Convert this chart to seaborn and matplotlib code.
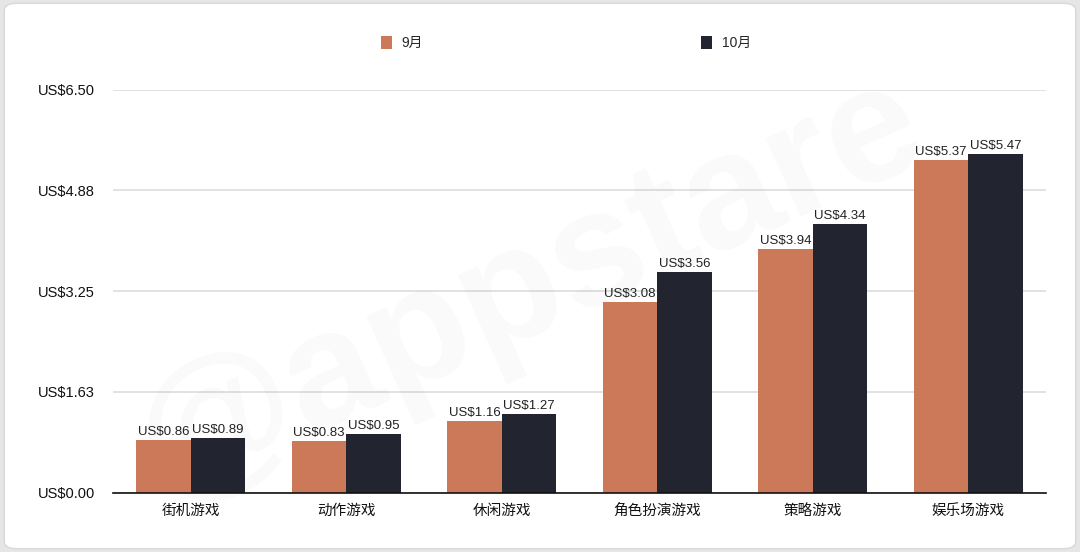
import matplotlib
matplotlib.use("Agg")
import matplotlib.pyplot as plt
import seaborn as sns
import pandas as pd
from matplotlib.patches import FancyBboxPatch

categories = ["街机游戏", "动作游戏", "休闲游戏", "角色扮演游戏", "策略游戏", "娱乐场游戏"]
series_names = ["9月", "10月"]
sep_values = [0.86, 0.83, 1.16, 3.08, 3.94, 5.37]
oct_values = [0.89, 0.95, 1.27, 3.56, 4.34, 5.47]
y_ticks = [0.00, 1.63, 3.25, 4.88, 6.50]
colors = ["#CC7959", "#22242F"]

df = pd.DataFrame({
    "category": categories * 2,
    "series": [series_names[0]] * len(categories) + [series_names[1]] * len(categories),
    "value": sep_values + oct_values,
})

sns.set_theme(style="white")
plt.rcParams["font.family"] = ["Liberation Sans", "Noto Sans CJK SC", "DejaVu Sans"]

fig = plt.figure(figsize=(10.8, 5.52), dpi=100)
fig.patch.set_facecolor("#E6E6E6")
bg = FancyBboxPatch((0.004, 0.006), 0.992, 0.988, boxstyle="round,pad=0,rounding_size=0.012",
                    transform=fig.transFigure, facecolor="white", edgecolor="#D8D8D8",
                    linewidth=1.0, zorder=-5)
fig.patches.append(bg)

ax = fig.add_axes([0.1046, 0.107, 0.864, 0.730])
ax.set_facecolor("none")

sns.barplot(data=df, x="category", y="value", hue="series", palette=colors,
            width=0.70, saturation=1, ax=ax, zorder=3, linewidth=0, edgecolor="none")

for cont in ax.containers:
    ax.bar_label(cont, labels=[f"US${v:.2f}" for v in cont.datavalues],
                 padding=1.5, fontsize=9.5, color="#222222", zorder=5)

ax.set_xlim(-0.5, len(categories) - 0.5)
ax.set_ylim(0, 6.5)
ax.set_yticks(y_ticks)
ax.set_yticklabels([f"US${v:.2f}" for v in y_ticks], fontsize=10.5, color="#111111")
ax.tick_params(axis="x", labelsize=10.5, colors="#111111", length=0, pad=8)
ax.tick_params(axis="y", length=0, pad=13)
ax.set_xlabel("")
ax.set_ylabel("")
ax.yaxis.grid(True, color="#DDDDDD", linewidth=1.2, zorder=0)
ax.set_axisbelow(True)
for s in ["top", "right", "left"]:
    ax.spines[s].set_visible(False)
ax.spines["bottom"].set_color("#111111")
ax.spines["bottom"].set_linewidth(1.2)
ax.spines["bottom"].set_zorder(6)

# legend
handles, labels = ax.get_legend_handles_labels()
ax.get_legend().remove()
fig.legend(handles, labels, loc="center", bbox_to_anchor=(0.524, 0.922), ncol=2,
           frameon=False, fontsize=10, handlelength=0.8, handleheight=1.1,
           handletextpad=0.7, columnspacing=20)

# watermark (behind bars)
ax.text(0.49, 0.48, "@appstare", transform=fig.transFigure, fontsize=118,
        fontweight="bold", color="#000000", alpha=0.025, rotation=24,
        ha="center", va="center", zorder=1, clip_on=False)

fig.savefig("out.png", dpi=100, facecolor=fig.get_facecolor())
